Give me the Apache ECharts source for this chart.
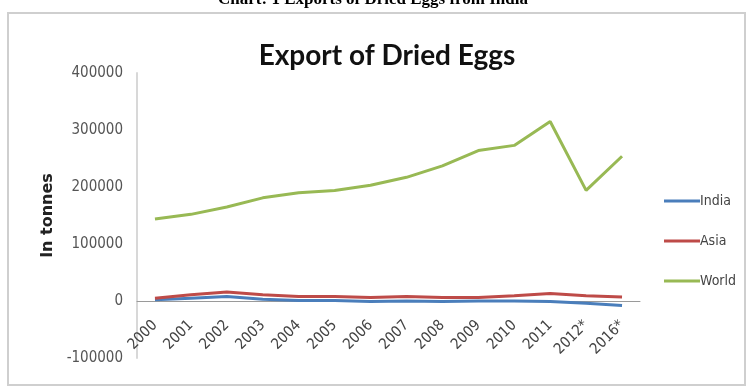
<!DOCTYPE html>
<html>
<head>
<meta charset="utf-8">
<script src="https://cdn.jsdelivr.net/npm/echarts@6/dist/echarts.min.js"></script>
<style>html,body{margin:0;padding:0;background:#fff}#c{width:747px;height:387px}</style>
</head>
<body>
<div id="c"></div>
<script>
const years = ['2000','2001','2002','2003','2004','2005','2006','2007','2008','2009','2010','2011','2012*','2016*'];
const india = [2000, 5000, 8000, 3000, 1000, 1000, -1000, 0, -1000, 0, 0, -1000, -4000, -8000];
const asia = [5000, 11000, 16000, 11000, 8000, 8000, 6000, 8000, 6000, 6000, 9000, 13000, 9000, 7000];
const world = [144000, 152000, 165000, 181000, 190000, 194000, 203000, 217000, 237000, 264000, 273000, 315000, 194000, 254000];
const yTicks = [-100000, 0, 100000, 200000, 300000, 400000];

const narrow = '"DejaVu Sans Condensed", "Liberation Sans", sans-serif';
const chart = echarts.init(document.getElementById('c'));
const mk = (name, data, color) => ({
  name, type: 'line', data, symbol: 'none', smooth: false,
  lineStyle: {color, width: 3}, itemStyle: {color}
});
chart.setOption({
  animation: false,
  title: {
    text: 'Export of Dried Eggs', left: 382, textAlign: 'center', top: 37,
    textStyle: {fontFamily: 'Lato', fontWeight: 'bold', fontSize: 28, color: '#111'}
  },
  graphic: [
    {type: 'rect', shape: {x: 8, y: 13, width: 737, height: 372}, style: {fill: 'none', stroke: '#cfcfcf', lineWidth: 2}},
    {type: 'text', x: 373, y: -9, style: {text: 'Chart: 1 Exports of Dried Eggs from India', font: 'bold 17px "Liberation Serif"', fill: '#000', textAlign: 'center'}}
  ],
  legend: {
    orient: 'vertical', left: 659, top: 189, itemGap: 26, itemWidth: 36, itemHeight: 3,
    icon: 'rect',
    textStyle: {fontFamily: narrow, fontSize: 14, color: '#444', padding: [0,0,0,-5]},
    data: ['India', 'Asia', 'World']
  },
  grid: {left: 137, right: 107, top: 73, bottom: 29, containLabel: false},
  xAxis: {
    type: 'category', data: years, boundaryGap: true,
    axisLine: {onZero: true, lineStyle: {color: '#9a9a9a', width: 1}},
    axisTick: {show: false},
    axisLabel: {rotate: 45, color: '#444', fontFamily: narrow, fontSize: 15, margin: -35, interval: 0}
  },
  yAxis: {
    type: 'value', min: -100000, max: 400000, interval: 100000,
    name: 'In tonnes', nameLocation: 'middle', nameGap: 80, nameRotate: 90,
    nameTextStyle: {fontFamily: 'DejaVu Sans', fontWeight: 'bold', fontSize: 16, color: '#222'},
    axisLine: {show: true, lineStyle: {color: '#d8d8d8', width: 2}},
    axisTick: {show: false},
    splitLine: {show: false},
    axisLabel: {color: '#555', fontFamily: narrow, fontSize: 15, margin: 14,
      customValues: yTicks, formatter: v => String(v)}
  },
  series: [
    mk('India', india, '#4a7ebb'),
    mk('Asia', asia, '#be4b48'),
    mk('World', world, '#98b954')
  ]
});
</script>
</body>
</html>
